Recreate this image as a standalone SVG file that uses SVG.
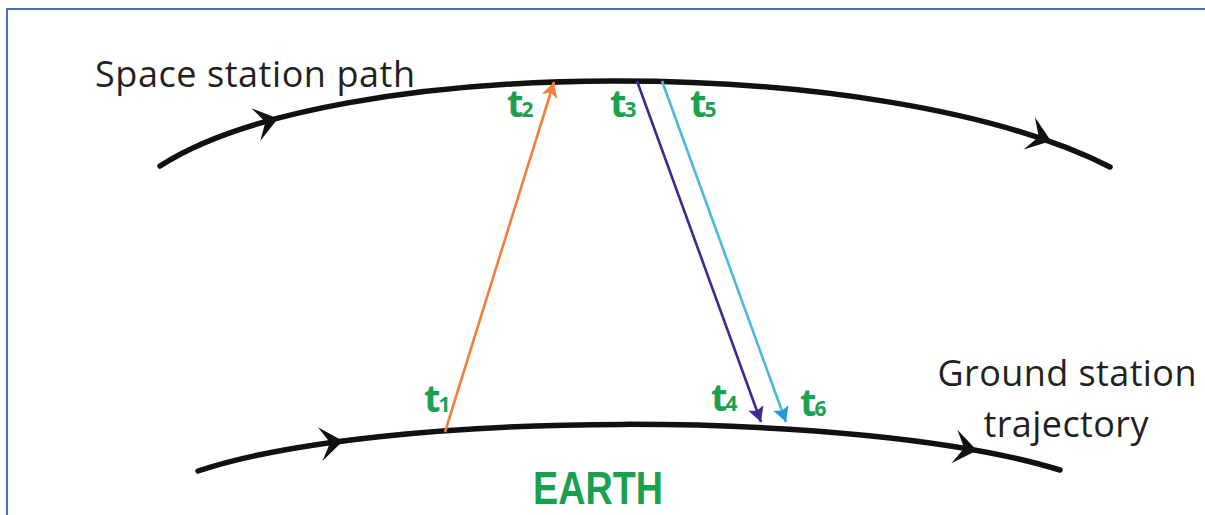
<svg xmlns="http://www.w3.org/2000/svg" width="1205" height="515" viewBox="0 0 1205 515">
  <style>
    .orbit { fill: none; stroke: #111111; stroke-width: 5.5; stroke-linecap: round; }
    .head { fill: #111111; }
    .caption { font-family: "Open Sans", "Liberation Sans", sans-serif; font-size: 36px; fill: #231f20; }
    .tlab { font-family: "Open Sans", "Liberation Sans", sans-serif; font-weight: bold; font-size: 38px; fill: #19a14f; }
    .sub { font-size: 21px; }
    .earth { font-family: "Liberation Sans", Arial, sans-serif; font-weight: bold; font-size: 47px; fill: #19a14f; }
    .sig { fill: none; stroke-width: 2.6; }
  </style>
  <defs>
    <path id="dart" d="M0,0 L-23,-17 L-13,0 L-23,17 Z"/>
    <marker id="mOrange" markerUnits="userSpaceOnUse" viewBox="-16 -9 18 18" refX="0" refY="0" markerWidth="18" markerHeight="18" orient="auto">
      <path d="M0,0 L-15,-8 L-11,0 L-15,8 Z" fill="#f07f3c"/>
    </marker>
    <marker id="mPurple" markerUnits="userSpaceOnUse" viewBox="-16 -9 18 18" refX="0" refY="0" markerWidth="18" markerHeight="18" orient="auto">
      <path d="M0,0 L-15,-8 L-12,0 L-15,8 Z" fill="#3a2a96"/>
    </marker>
    <marker id="mBlue" markerUnits="userSpaceOnUse" viewBox="-16 -9 18 18" refX="0" refY="0" markerWidth="18" markerHeight="18" orient="auto">
      <path d="M0,0 L-15,-8 L-12,0 L-15,8 Z" fill="#1e9ad6"/>
    </marker>
  </defs>

  <rect id="frame" x="7" y="9" width="1210" height="520" fill="#ffffff" stroke="#4472c4" stroke-width="2"/>

  <g id="space-station-path">
    <path class="orbit" d="M160,166 C330,55 880,50 1110,167"/>
    <use href="#dart" class="head" transform="translate(278,118.6) rotate(-15)"/>
    <use href="#dart" class="head" transform="translate(1051,141) rotate(19.4)"/>
    <text class="caption" x="95" y="87" textLength="320">Space station path</text>
  </g>

  <g id="ground-station-trajectory">
    <path class="orbit" d="M198,471 C380,410 860,408 1060,470"/>
    <use href="#dart" class="head" transform="translate(343,441) rotate(-7.6)"/>
    <use href="#dart" class="head" transform="translate(977,450.5) rotate(10.2)"/>
    <text class="caption" x="1067" y="386" text-anchor="middle" textLength="259">Ground station</text>
    <text class="caption" x="1066" y="437" text-anchor="middle" textLength="165">trajectory</text>
  </g>

  <g id="earth">
    <text class="earth" x="533" y="504" textLength="130" lengthAdjust="spacingAndGlyphs">EARTH</text>
  </g>

  <g id="connectors">
    <line class="sig" x1="445" y1="432" x2="554" y2="82" stroke="#f07f3c" stroke-width="3" marker-end="url(#mOrange)"/>
    <line class="sig" x1="637" y1="81" x2="761" y2="422" stroke="#3a2a96" marker-end="url(#mPurple)"/>
    <line class="sig" x1="662" y1="81" x2="786" y2="422" stroke="#4ab8e2" marker-end="url(#mBlue)"/>
  </g>

  <g id="time-labels">
    <g id="t1"><text class="tlab" x="424" y="412">t<tspan class="sub" dx="-2">1</tspan></text></g>
    <g id="t2"><text class="tlab" x="507" y="117">t<tspan class="sub" dx="-2">2</tspan></text></g>
    <g id="t3"><text class="tlab" x="610" y="117">t<tspan class="sub" dx="-2">3</tspan></text></g>
    <g id="t5"><text class="tlab" x="690" y="117">t<tspan class="sub" dx="-2">5</tspan></text></g>
    <g id="t4"><text class="tlab" x="711" y="411">t<tspan class="sub" dx="-2">4</tspan></text></g>
    <g id="t6"><text class="tlab" x="800" y="416">t<tspan class="sub" dx="-2">6</tspan></text></g>
  </g>
</svg>
